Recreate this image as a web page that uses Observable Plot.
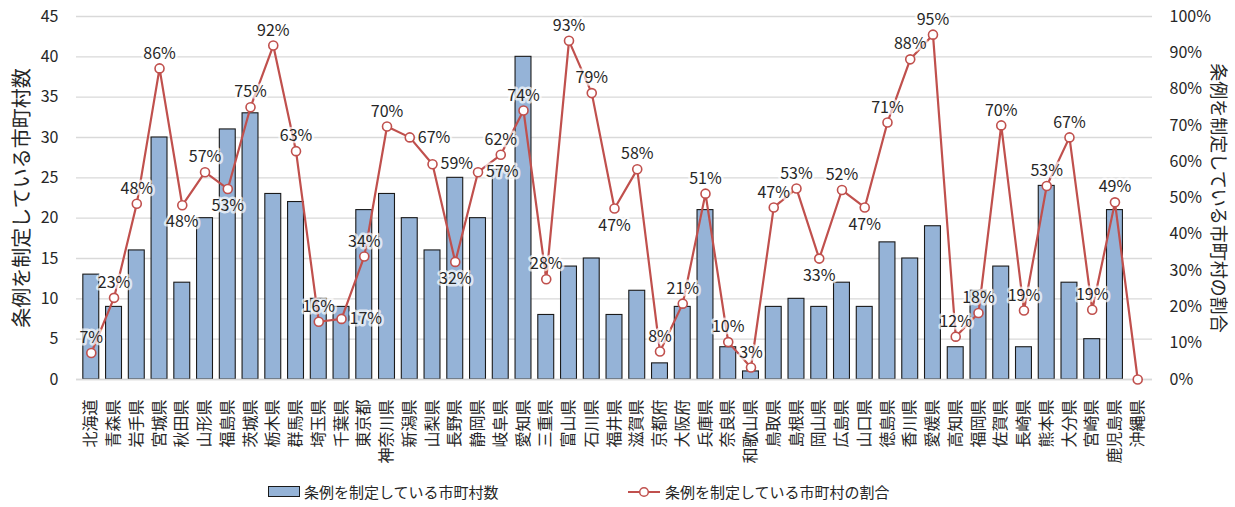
<!DOCTYPE html>
<html>
<head>
<meta charset="utf-8">
<script src="https://cdn.jsdelivr.net/npm/d3@7"></script>
<script src="https://cdn.jsdelivr.net/npm/@observablehq/plot@0.6"></script>
<style>
  html, body { margin: 0; padding: 0; background: #fff; }
  body { width: 1235px; height: 507px; overflow: hidden; font-family: "Noto Sans CJK JP", "Noto Sans", sans-serif; color: #262626; }
  #legend { position: relative; height: 32px; font-size: 15px; }
  .item { position: absolute; top: 6px; display: flex; align-items: center; white-space: nowrap; }
  .item svg { margin-right: 3px; }
</style>
</head>
<body>
<div id="chart"></div>
<div id="legend"></div>
<script>
const prefectures = ["北海道","青森県","岩手県","宮城県","秋田県","山形県","福島県","茨城県","栃木県","群馬県","埼玉県","千葉県","東京都","神奈川県","新潟県","山梨県","長野県","静岡県","岐阜県","愛知県","三重県","富山県","石川県","福井県","滋賀県","京都府","大阪府","兵庫県","奈良県","和歌山県","鳥取県","島根県","岡山県","広島県","山口県","徳島県","香川県","愛媛県","高知県","福岡県","佐賀県","長崎県","熊本県","大分県","宮崎県","鹿児島県","沖縄県"];
const counts = [13,9,16,30,12,20,31,33,23,22,10,9,21,23,20,16,25,20,26,40,8,14,15,8,11,2,9,21,4,1,9,10,9,12,9,17,15,19,4,11,14,4,24,12,5,21,0];
const ratios = [7.3,22.5,48.4,85.7,48.0,57.1,52.5,75.0,92.0,62.9,15.9,16.7,33.9,69.7,66.7,59.3,32.4,57.1,61.9,74.1,27.6,93.3,78.9,47.1,57.9,7.7,20.9,51.2,10.3,3.3,47.4,52.6,33.3,52.2,47.4,70.8,88.2,95.0,11.8,18.3,70.0,19.0,53.3,66.7,19.2,48.8,0];
const leftTicks = [0,5,10,15,20,25,30,35,40,45];
const rightTicks = [0,10,20,30,40,50,60,70,80,90,100];
const leftTitle = "条例を制定している市町村数";
const rightTitle = "条例を制定している市町村の割合";

const W = 1235, H = 475, ML = 76, MR = 83, MT = 16, MB = 96;
const YMAX = 45;
const toY = p => p / 100 * YMAX;
const FS = 16;

// label placement candidates (offsets relative to the point)
const places = {
  up:        { dx: 0,   dy: -15, anchor: "middle" },
  upLeft:    { dx: -4,  dy: -12, anchor: "end" },
  upRight:   { dx: 4,   dy: -12, anchor: "start" },
  left:      { dx: -8,  dy: 0,   anchor: "end" },
  right:     { dx: 8,   dy: 0,   anchor: "start" },
  down:      { dx: 0,   dy: 17,  anchor: "middle" },
  downLeft:  { dx: -4,  dy: 14,  anchor: "end" },
  downRight: { dx: 4,   dy: 14,  anchor: "start" },
  upHigh:    { dx: 0,   dy: -30, anchor: "middle" }
};

function preferred(i) {
  const p = ratios[i], a = ratios[i - 1], b = ratios[i + 1];
  if (a === undefined) return "upLeft";
  if (b === undefined) return "up";
  if (a < p && p < b) return "upLeft";
  if (a > p && p > b) return "upRight";
  if (a < p && p >= b) return "up";
  return p > 30 ? "down" : "up";
}

// pixel geometry via d3 scales mirroring the Plot scales (used only to avoid label collisions)
const xs = d3.scaleBand(prefectures, [ML, W - MR]).padding(0.3);
const ys = d3.scaleLinear([0, YMAX], [H - MB, MT]);
const pts = prefectures.map((p, i) => [xs(p) + xs.bandwidth() / 2, ys(toY(ratios[i]))]);

function boxFor(i, key) {
  const pl = places[key], text = Math.round(ratios[i]) + "%";
  const w = text.length === 2 ? 22 : 32, h = 15;
  const X = pts[i][0] + pl.dx, Y = pts[i][1] + pl.dy;
  const x0 = pl.anchor === "start" ? X : pl.anchor === "end" ? X - w : X - w / 2;
  return [x0, Y - h / 2, x0 + w, Y + h / 2];
}
const inter = (a, b) => a[0] < b[2] && b[0] < a[2] && a[1] < b[3] && b[1] < a[3];
const dotBoxes = pts.map(([x, y]) => [x - 5, y - 5, x + 5, y + 5]);
const placed = [];
const order = ["up", "upRight", "upLeft", "right", "left", "down", "downRight", "downLeft", "upHigh"];
const placement = prefectures.map((p, i) => {
  if (ratios[i] <= 0) return null;
  const cands = [preferred(i), ...order.filter(k => k !== preferred(i))];
  for (const key of cands) {
    const b = boxFor(i, key);
    if (b[1] < 0 || b[3] > H - MB) continue;
    if (placed.some(q => inter(q, b))) continue;
    if (dotBoxes.some(q => inter(q, b))) continue;
    placed.push(b); return key;
  }
  return preferred(i);
});

const data = prefectures.map((pref, i) => ({ pref, count: counts[i], pct: ratios[i], place: placement[i] }));
const labeled = data.filter(d => d.pct > 0);

const font = "'Noto Sans CJK JP', 'Noto Sans', sans-serif";
const barFill = "#95B3D7";
const lineColor = "#C0504D";

const labelMarks = Object.entries(places).map(([key, pl]) =>
  Plot.text(labeled.filter(d => d.place === key), {
    x: "pref", y: d => toY(d.pct), text: d => Math.round(d.pct) + "%",
    fontSize: FS, fill: "#262626", stroke: "white", strokeWidth: 5, strokeOpacity: 0.7,
    dx: pl.dx, dy: pl.dy, textAnchor: pl.anchor
  })
);

const chart = Plot.plot({
  width: W,
  height: H,
  marginLeft: ML,
  marginRight: MR,
  marginTop: MT,
  marginBottom: MB,
  style: { fontFamily: font, color: "#262626", background: "white", overflow: "visible" },
  x: { domain: prefectures, padding: 0.3, label: null },
  y: { domain: [0, YMAX], label: null },
  marks: [
    Plot.gridY(leftTicks, { stroke: "#d9d9d9", strokeOpacity: 1, strokeWidth: 1.3 }),
    Plot.axisY(leftTicks, { anchor: "left", tickSize: 0, tickPadding: 18, fontSize: 16, label: null }),
    Plot.axisY(rightTicks.map(toY), {
      anchor: "right", tickSize: 0, tickPadding: 17, fontSize: 16, label: null,
      tickFormat: v => Math.round(v / YMAX * 100) + "%"
    }),
    Plot.axisX({ tickSize: 0, tickPadding: 20, tickRotate: -90, fontSize: 16, label: null }),
    Plot.barY(data, { x: "pref", y: "count", fill: barFill, stroke: "#1a1a1a", strokeWidth: 1.1 }),
    Plot.ruleY([0], { stroke: "#d9d9d9", strokeWidth: 1.3 }),
    Plot.line(data, { x: "pref", y: d => toY(d.pct), stroke: lineColor, strokeWidth: 2.2 }),
    ...labelMarks,
    Plot.dot(data, { x: "pref", y: d => toY(d.pct), r: 4.5, fill: "white", stroke: lineColor, strokeWidth: 1.6 }),
    Plot.text([leftTitle], { frameAnchor: "left", dx: -54, rotate: -90, textAnchor: "middle", fontSize: 20, fill: "#262626" }),
    Plot.text([rightTitle], { frameAnchor: "right", dx: 65, rotate: 90, textAnchor: "middle", fontSize: 18, fill: "#262626" })
  ]
});
document.getElementById("chart").appendChild(chart);

// Legend
const legend = document.getElementById("legend");
legend.innerHTML = `
  <div class="item" style="left:268px">
    <svg width="33" height="12"><rect x="0.5" y="0.5" width="31" height="10" fill="${barFill}" stroke="#1a1a1a" stroke-width="1"/></svg>
    <span>${leftTitle}</span>
  </div>
  <div class="item" style="left:628px">
    <svg width="34" height="12"><line x1="0" y1="6" x2="32" y2="6" stroke="${lineColor}" stroke-width="2"/><circle cx="16" cy="6" r="4.3" fill="white" stroke="${lineColor}" stroke-width="1.5"/></svg>
    <span>${rightTitle}</span>
  </div>`;
</script>
</body>
</html>
